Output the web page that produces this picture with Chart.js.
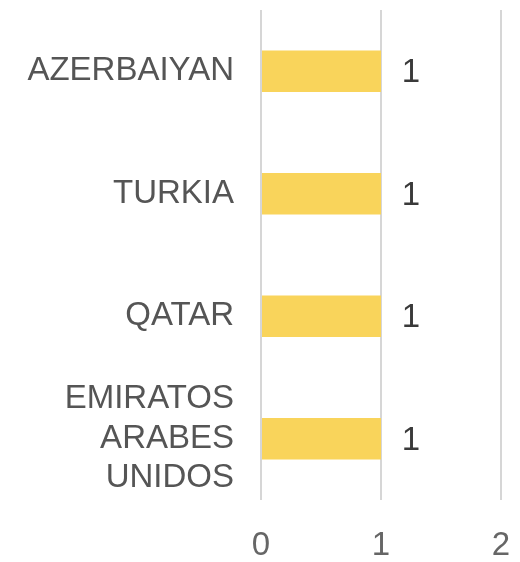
<!DOCTYPE html>
<html lang="es">
<head>
  <meta charset="UTF-8" />
  <title>Paises</title>
  <script src="https://cdn.jsdelivr.net/npm/chart.js"></script>
  <style>
    html, body { margin: 0; padding: 0; background: #fff; }
    #wrap { width: 520px; height: 562px; }
  </style>
</head>
<body>
  <div id="wrap"><canvas id="barChart" width="520" height="562"></canvas></div>

  <script>
    const categories = ["AZERBAIYAN", "TURKIA", "QATAR", ["EMIRATOS", "ARABES", "UNIDOS"]];
    const values = [1, 1, 1, 1];
    const xTicks = [0, 1, 2];

    // draws the value next to each bar end
    const valueLabels = {
      id: "valueLabels",
      afterDatasetsDraw(chart) {
        const ctx = chart.ctx;
        const meta = chart.getDatasetMeta(0);
        ctx.save();
        ctx.font = "33px 'Liberation Sans', Arial, sans-serif";
        ctx.fillStyle = "#3a3a3a";
        ctx.textAlign = "center";
        ctx.textBaseline = "middle";
        meta.data.forEach((bar, i) => {
          ctx.fillText(String(values[i]), bar.x + 30, bar.y + 2);
        });
        ctx.restore();
      }
    };

    new Chart(document.getElementById("barChart"), {
      type: "bar",
      data: {
        labels: categories,
        datasets: [{
          data: values,
          backgroundColor: "#F9D45B",
          borderWidth: 0,
          barPercentage: 0.34,
          categoryPercentage: 1.0
        }]
      },
      options: {
        indexAxis: "y",
        responsive: false,
        animation: false,
        layout: { padding: { top: 10, right: 19, bottom: 0, left: 0 } },
        plugins: { legend: { display: false }, tooltip: { enabled: false } },
        scales: {
          x: {
            min: 0,
            max: 2,
            afterBuildTicks: s => { s.ticks = xTicks.map(v => ({ value: v })); },
            afterFit: s => { s.height = 62; s.paddingLeft = 0; s.paddingRight = 0; },
            grid: { color: "#d6d6d6", lineWidth: 2, drawTicks: false },
            border: { display: false },
            ticks: {
              padding: 26,
              color: "#666",
              font: { size: 33, family: "'Liberation Sans', Arial, sans-serif" }
            }
          },
          y: {
            afterFit: s => { s.width = 261; s.paddingTop = 0; s.paddingBottom = 0; },
            grid: { display: false, drawTicks: false },
            border: { display: false },
            ticks: {
              autoSkip: false,
              padding: 27,
              color: "#555",
              font: { size: 33, family: "'Liberation Sans', Arial, sans-serif", lineHeight: 1.2 }
            }
          }
        }
      },
      plugins: [valueLabels]
    });
  </script>
</body>
</html>
